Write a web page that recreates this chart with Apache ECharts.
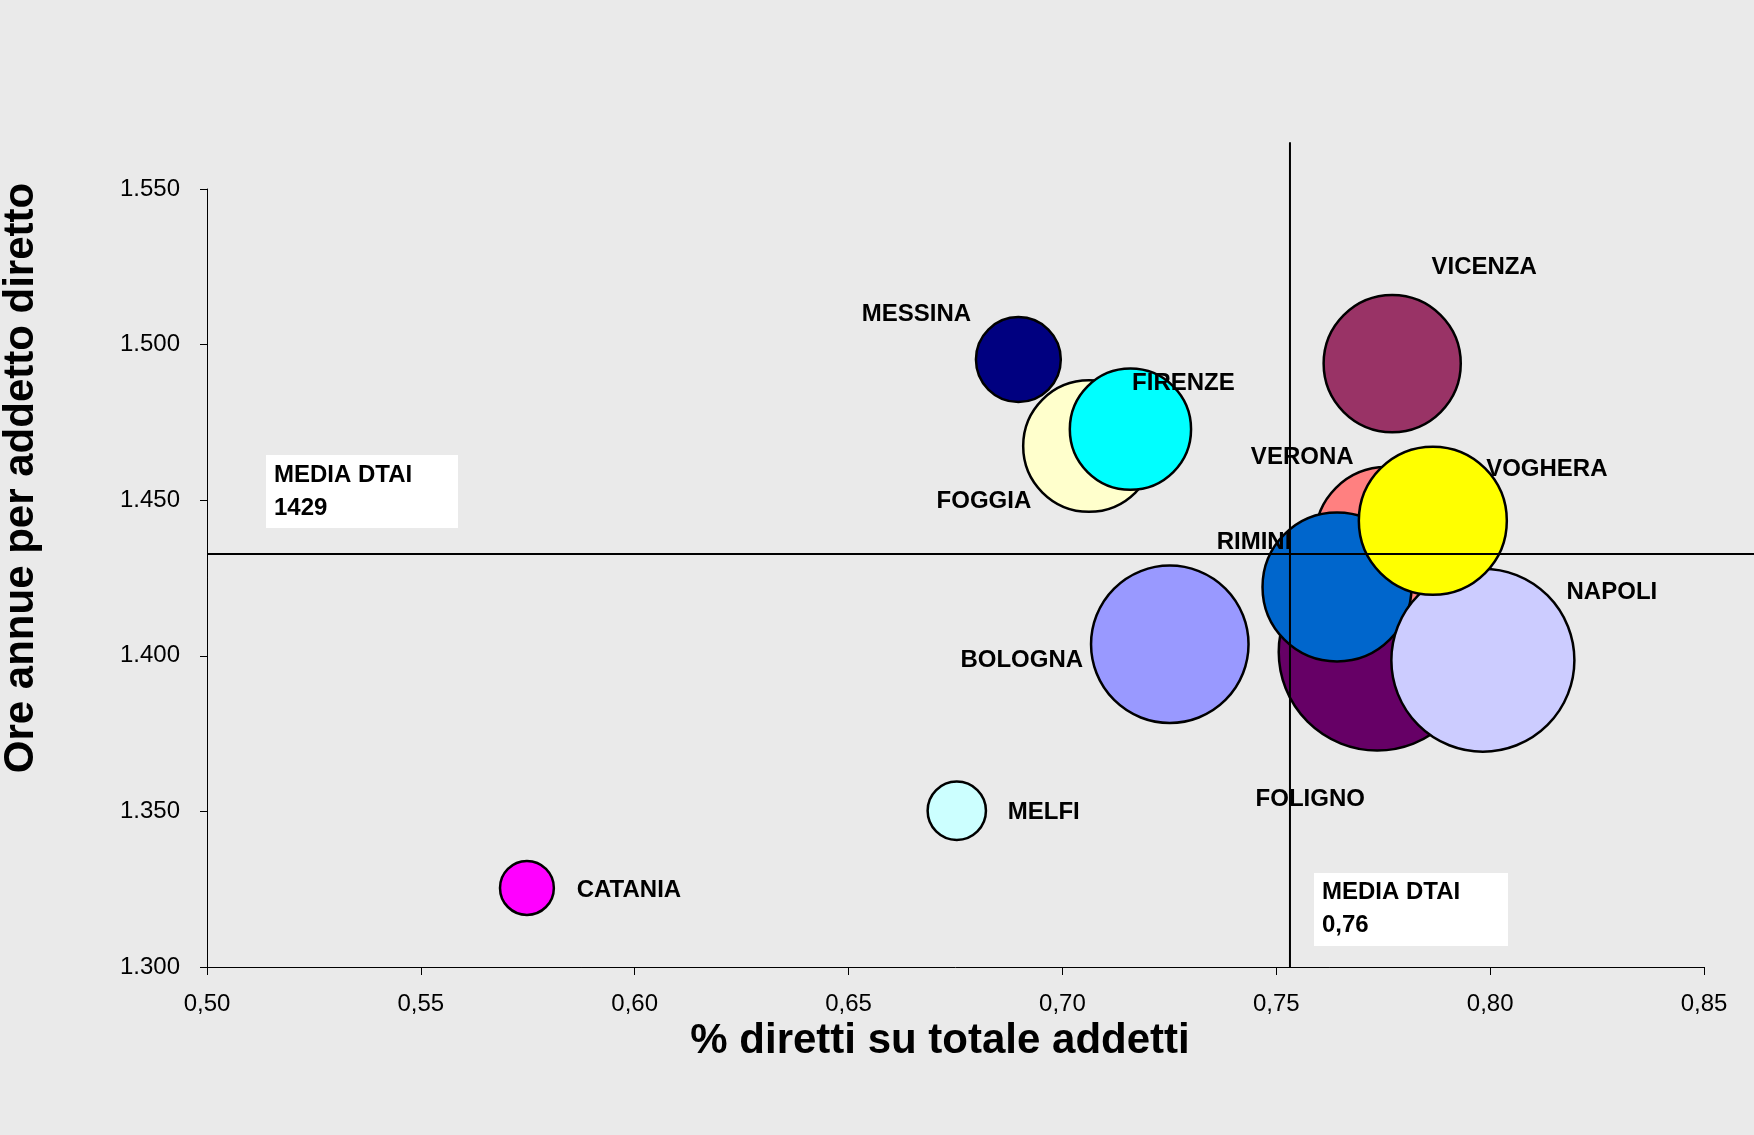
<!DOCTYPE html>
<html>
<head>
<meta charset="utf-8">
<script src="https://cdn.jsdelivr.net/npm/echarts@6/dist/echarts.min.js"></script>
<style>
  html, body { margin: 0; padding: 0; background: #EAEAEA; }
  #chart { width: 1754px; height: 1135px; }
</style>
</head>
<body>
<div id="chart"></div>
<script>
// ---- data (draw order: later items drawn on top) ----
const cities      = ['CATANIA','MELFI','BOLOGNA','FOGGIA','FIRENZE','MESSINA','VICENZA','FOLIGNO','VERONA','RIMINI','NAPOLI','VOGHERA'];
const pctDiretti  = [0.5748, 0.6753, 0.7251, 0.7062, 0.7159, 0.6897, 0.7771, 0.7736, 0.7757, 0.7642, 0.7983, 0.7866];
const oreAnnue    = [1325.4, 1350.2, 1403.7, 1467.4, 1472.8, 1495.2, 1493.9, 1401.2, 1437.8, 1422.1, 1398.6, 1443.4];
const bubbleSize  = [29, 34, 248, 173, 147, 72, 188, 388, 202, 222, 335, 219];

const xTickLabels = ['0,50','0,55','0,60','0,65','0,70','0,75','0,80','0,85'];
const yTickLabels = ['1.300','1.350','1.400','1.450','1.500','1.550'];

const mediaPct = 0.7532;      // position of the vertical average line as drawn
const mediaOre = 1432.7;      // position of the horizontal average line as drawn
const mediaPctText = '0,76';
const mediaOreText = '1429';

// average lines as [x1, y1, x2, y2] in data units
const avgLines = [
  [mediaPct, 1300, mediaPct, 1565],
  [0.5, mediaOre, 0.87, mediaOre]
];

// ---- styles / layout ----
const colors = ['#FF00FF','#CCFFFF','#9999FF','#FFFFCC','#00FFFF','#000080','#993366','#660066','#FF8080','#0066CC','#CCCCFF','#FFFF00'];
const labelOffsets = [[102,2],[87,2],[-148,16],[-105,55],[53,-46],[-102,-45],[92,-96],[-67,147],[-84,-81],[-83,-45],[129,-68],[114,-51]];

const FONT = '"Liberation Sans", Arial, sans-serif';

const chart = echarts.init(document.getElementById('chart'));

const data = cities.map((c, i) => ({
  name: c,
  value: [pctDiretti[i], oreAnnue[i], bubbleSize[i]],
  itemStyle: { color: colors[i] },
  label: { offset: labelOffsets[i] }
}));

const option = {
  backgroundColor: '#EAEAEA',
  animation: false,
  grid: { left: 207, right: 50, top: 189, bottom: 168, containLabel: false },
  xAxis: {
    type: 'value', min: 0.5, max: 0.85, interval: 0.05,
    axisLine: { show: true, onZero: false, lineStyle: { color: '#000', width: 1 } },
    axisTick: { show: true, length: 8, lineStyle: { color: '#000', width: 1 } },
    splitLine: { show: false },
    axisLabel: {
      color: '#000', fontFamily: FONT, fontSize: 24, margin: 25,
      formatter: v => xTickLabels[Math.round((v - 0.5) / 0.05)] || ''
    }
  },
  yAxis: {
    type: 'value', min: 1300, max: 1550, interval: 50,
    axisLine: { show: true, onZero: false, lineStyle: { color: '#000', width: 1 } },
    axisTick: { show: true, length: 7, lineStyle: { color: '#000', width: 1 } },
    splitLine: { show: false },
    axisLabel: {
      color: '#000', fontFamily: FONT, fontSize: 24, margin: 27, padding: [4, 0, 0, 0],
      formatter: v => yTickLabels[Math.round((v - 1300) / 50)] || ''
    }
  },
  series: [
    {
      type: 'scatter',
      z: 2,
      data: data,
      symbol: 'circle',
      symbolSize: v => 10 * Math.sqrt(v[2]),
      itemStyle: { borderColor: '#000', borderWidth: 2.5, opacity: 1 },
      label: {
        show: true, position: 'inside',
        formatter: p => p.name,
        color: '#000', fontFamily: FONT, fontSize: 24, fontWeight: 'bold'
      },
      emphasis: { disabled: true },
      clip: false
    },
    {
      type: 'custom', z: 3, silent: true, clip: false,
      data: avgLines,
      encode: { x: [0, 2], y: [1, 3] },
      renderItem: (params, api) => {
        const p1 = api.coord([api.value(0), api.value(1)]);
        const p2 = api.coord([api.value(2), api.value(3)]);
        return {
          type: 'line',
          shape: { x1: p1[0], y1: p1[1], x2: p2[0], y2: p2[1] },
          style: { stroke: '#000', lineWidth: 2 }
        };
      }
    }
  ],
  graphic: [
    { type: 'rect', z: 10, shape: { x: 266, y: 455, width: 192, height: 73 }, style: { fill: '#FFFFFF' } },
    { type: 'text', z: 11, style: { x: 274, y: 459, text: 'MEDIA DTAI\n' + mediaOreText, font: 'bold 24px ' + FONT, fill: '#000', lineHeight: 33, textVerticalAlign: 'top', textAlign: 'left' } },
    { type: 'rect', z: 10, shape: { x: 1314, y: 873, width: 194, height: 73 }, style: { fill: '#FFFFFF' } },
    { type: 'text', z: 11, style: { x: 1322, y: 876, text: 'MEDIA DTAI\n' + mediaPctText, font: 'bold 24px ' + FONT, fill: '#000', lineHeight: 33, textVerticalAlign: 'top', textAlign: 'left' } },
    { type: 'text', z: 11, x: 21, y: 478, rotation: Math.PI / 2, style: { x: 0, y: 0, text: 'Ore annue per addetto diretto', font: 'bold 42px ' + FONT, fill: '#000', textAlign: 'center', textVerticalAlign: 'middle' } },
    { type: 'text', z: 11, style: { x: 940, y: 1041, text: '% diretti su totale addetti', font: 'bold 42px ' + FONT, fill: '#000', textAlign: 'center', textVerticalAlign: 'middle' } }
  ]
};

chart.setOption(option);
</script>
</body>
</html>
